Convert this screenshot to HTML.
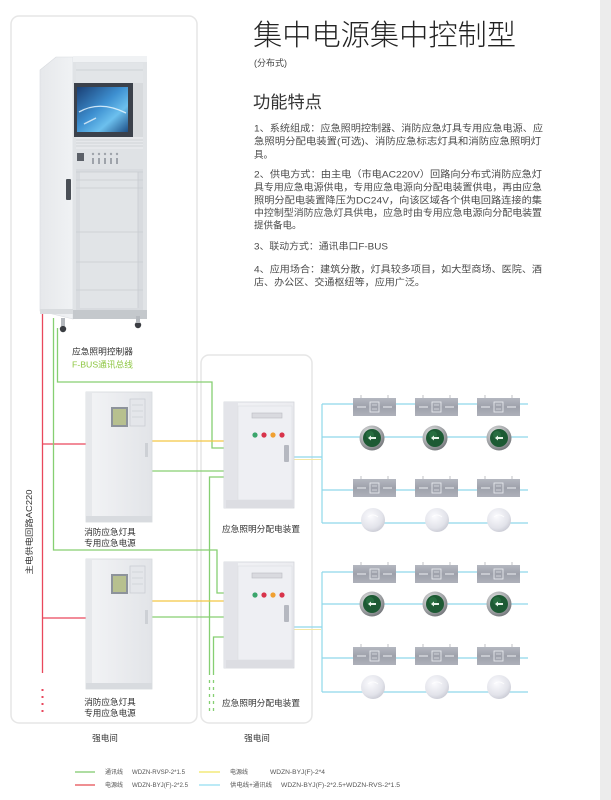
<!DOCTYPE html>
<html><head><meta charset="utf-8">
<style>
html,body{margin:0;padding:0;background:#fff;}
body{width:611px;height:800px;overflow:hidden;}
svg{display:block;}
text{font-family:"Liberation Sans","Noto Sans CJK SC",sans-serif;}
</style></head><body>
<svg width="611" height="800" viewBox="0 0 611 800" xmlns="http://www.w3.org/2000/svg">
<defs>
  <linearGradient id="gScreen" x1="0" y1="0" x2="1" y2="1">
    <stop offset="0" stop-color="#1a3f74"/><stop offset="0.45" stop-color="#3d8fd0"/><stop offset="0.7" stop-color="#6cc0ee"/><stop offset="1" stop-color="#1d4f86"/>
  </linearGradient>
  <linearGradient id="gSide" x1="0" y1="0" x2="1" y2="0">
    <stop offset="0" stop-color="#e6e8eb"/><stop offset="1" stop-color="#f0f2f4"/>
  </linearGradient>
  <linearGradient id="gBox" x1="0" y1="0" x2="1" y2="0">
    <stop offset="0" stop-color="#f3f4f6"/><stop offset="1" stop-color="#e2e4e8"/>
  </linearGradient>
  <linearGradient id="gDist" x1="0" y1="0" x2="1" y2="1">
    <stop offset="0" stop-color="#f2f3f6"/><stop offset="1" stop-color="#e4e5ea"/>
  </linearGradient>
  <linearGradient id="gExit" x1="0" y1="0" x2="0" y2="1">
    <stop offset="0" stop-color="#b4b7c0"/><stop offset="0.5" stop-color="#9ea1ab"/><stop offset="1" stop-color="#aeb1ba"/>
  </linearGradient>
  <radialGradient id="gRing" cx="0.4" cy="0.35" r="0.7">
    <stop offset="0" stop-color="#f0f0f0"/><stop offset="0.6" stop-color="#a8aaad"/><stop offset="1" stop-color="#6e7175"/>
  </radialGradient>
  <radialGradient id="gWhite" cx="0.4" cy="0.35" r="0.7">
    <stop offset="0" stop-color="#fbfbfe"/><stop offset="0.7" stop-color="#e2e3ea"/><stop offset="1" stop-color="#c8c9d3"/>
  </radialGradient>
  <g id="exit">
    <line x1="8" y1="-3" x2="8" y2="0" stroke="#b0b2b8" stroke-width="0.8"/>
    <line x1="35" y1="-3" x2="35" y2="0" stroke="#b0b2b8" stroke-width="0.8"/>
    <rect x="0" y="0" width="43" height="18" fill="url(#gExit)"/>
    <line x1="4" y1="9" x2="13" y2="9" stroke="#eef0f4" stroke-width="1"/>
    <rect x="17" y="4" width="9" height="10" fill="none" stroke="#eef0f4" stroke-width="0.8"/>
    <line x1="19" y1="7" x2="24" y2="7" stroke="#eef0f4" stroke-width="0.6"/>
    <line x1="19" y1="11" x2="24" y2="11" stroke="#eef0f4" stroke-width="0.6"/>
    <line x1="30" y1="9" x2="39" y2="9" stroke="#eef0f4" stroke-width="1"/>
  </g>
  <g id="glamp">
    <circle cx="0" cy="0" r="12.5" fill="url(#gRing)"/>
    <circle cx="0" cy="0" r="9" fill="#1d5a34"/>
    <circle cx="-2" cy="-3" r="4" fill="#2e7a4a" opacity="0.6"/>
    <path d="M-4 0 L-1 -2.5 L-1 -1 L4 -1 L4 1 L-1 1 L-1 2.5 Z" fill="#e8f4ea"/>
  </g>
  <g id="wlamp">
    <circle cx="0" cy="0" r="12" fill="url(#gWhite)"/>
    <path d="M-5 -3 Q0 -7 5 -3" stroke="#ffffff" stroke-width="1" fill="none" opacity="0.8"/>
  </g>
</defs>

<!-- right gray stripe -->
<rect x="600" y="0" width="11" height="800" fill="#ececec"/>

<!-- container boxes -->
<rect x="11" y="16" width="186" height="707" rx="8" fill="none" stroke="#e6e6e6" stroke-width="1.5"/>
<rect x="201" y="355" width="111" height="368" rx="8" fill="none" stroke="#e6e6e6" stroke-width="1.5"/>

<!-- wires: red -->
<g stroke="#e9475c" stroke-width="1.3" fill="none">
  <line x1="42.5" y1="312" x2="42.5" y2="673"/>
  <line x1="42" y1="444" x2="87" y2="444"/>
  <line x1="42" y1="618" x2="87" y2="618"/>
</g>
<g fill="#e9475c">
  <rect x="41.5" y="689" width="2" height="2"/>
  <rect x="41.5" y="696" width="2" height="2"/>
  <rect x="41.5" y="703" width="2" height="2"/>
  <rect x="41.5" y="710" width="2" height="2"/>
</g>

<!-- wires: green -->
<g stroke="#86cf72" stroke-width="1.3" fill="none">
  <polyline points="53.5,318 53.5,550 217,550 217,593 224,593"/>
  <polyline points="57.5,328 57.5,382 212,382 212,448 224,448"/>
  <line x1="152" y1="471" x2="224" y2="471"/>
  <polyline points="224,477 209.5,477 209.5,675"/>
  <polyline points="224,637 213.5,637 213.5,675"/>
  <line x1="152" y1="617" x2="224" y2="617"/>
  <line x1="209.5" y1="680" x2="209.5" y2="712" stroke-dasharray="3,4"/>
  <line x1="213.5" y1="680" x2="213.5" y2="712" stroke-dasharray="3,4"/>
</g>

<!-- wires: yellow -->
<g stroke="#f3c744" stroke-width="1.3" fill="none">
  <line x1="152" y1="441" x2="224" y2="441"/>
  <line x1="152" y1="601" x2="224" y2="601"/>
</g>

<!-- wires: cyan buses -->
<g stroke="#8fd8ea" stroke-width="1.2" fill="none">
  <line x1="293" y1="457" x2="322" y2="457"/>
  <line x1="322" y1="404" x2="322" y2="523"/>
  <line x1="322" y1="404" x2="528" y2="404"/>
  <line x1="322" y1="437" x2="528" y2="437"/>
  <line x1="322" y1="490" x2="528" y2="490"/>
  <line x1="322" y1="523" x2="528" y2="523"/>
  <line x1="293" y1="627" x2="322" y2="627"/>
  <line x1="322" y1="572" x2="322" y2="692"/>
  <line x1="322" y1="572" x2="528" y2="572"/>
  <line x1="322" y1="604" x2="528" y2="604"/>
  <line x1="322" y1="658" x2="528" y2="658"/>
  <line x1="322" y1="692" x2="528" y2="692"/>
</g>
<g stroke="#f4e8a6" stroke-width="1" fill="none">
  <line x1="293" y1="459.5" x2="321" y2="459.5"/>
  <line x1="293" y1="629.5" x2="321" y2="629.5"/>
</g>

<!-- main controller cabinet -->
<polygon points="40,70 56,57 73,57 73,319 40,311" fill="url(#gSide)" stroke="#d8dbdf" stroke-width="0.6"/>
<rect x="73" y="56" width="74" height="263" fill="#e0e3e6"/>
<rect x="73" y="56" width="74" height="6" fill="#f0f2f4"/>
<rect x="76" y="63" width="67" height="248" fill="#d7dadd"/>
<rect x="76" y="63" width="67" height="20" fill="#e2e5e8"/>
<line x1="76" y1="70" x2="143" y2="70" stroke="#c8ccd1" stroke-width="0.8"/>
<rect x="74" y="83" width="59" height="54" fill="#3b414b"/>
<rect x="77" y="87" width="51" height="45" fill="url(#gScreen)"/>
<path d="M79 112 Q100 100 126 113" stroke="#e6f6ff" stroke-width="1.3" fill="none" opacity="0.85"/>
<path d="M84 124 L96 118" stroke="#ffffff" stroke-width="1.5" opacity="0.7"/>
<rect x="76" y="137" width="67" height="12" fill="#e6e8eb"/>
<g stroke="#c8ccd1" stroke-width="0.7">
  <line x1="76" y1="140" x2="143" y2="140"/><line x1="76" y1="143" x2="143" y2="143"/><line x1="76" y1="146" x2="143" y2="146"/>
</g>
<rect x="76" y="149" width="67" height="20" fill="#dfe2e5"/>
<rect x="77" y="153" width="7" height="8" fill="#5b6068"/>
<g fill="#9ea3aa">
  <circle cx="93" cy="154" r="1.2"/><circle cx="99" cy="154" r="1.2"/><circle cx="105" cy="154" r="1.2"/><circle cx="111" cy="154" r="1.2"/><circle cx="117" cy="154" r="1.2"/>
  <rect x="92" y="158" width="2" height="6"/><rect x="98" y="158" width="2" height="6"/><rect x="104" y="158" width="2" height="6"/><rect x="110" y="158" width="2" height="6"/><rect x="116" y="158" width="2" height="6"/>
</g>
<rect x="76" y="169" width="67" height="142" fill="#d8dbdf"/>
<rect x="80" y="172" width="58" height="136" fill="#e1e4e7"/>
<g stroke="#c8ccd1" stroke-width="0.8">
  <line x1="76" y1="172" x2="143" y2="172"/><line x1="76" y1="180" x2="143" y2="180"/><line x1="76" y1="188" x2="143" y2="188"/>
  <line x1="76" y1="232" x2="143" y2="232"/><line x1="76" y1="262" x2="143" y2="262"/><line x1="76" y1="290" x2="143" y2="290"/>
  <line x1="138" y1="172" x2="138" y2="308"/>
</g>
<rect x="66" y="179" width="5" height="21" rx="1" fill="#4a4f56"/>
<rect x="73" y="310" width="74" height="9" fill="#c4c8cc"/>
<rect x="40" y="309" width="33" height="5" fill="#d9dcdf"/>
<circle cx="63" cy="329" r="3.2" fill="#3a3d42"/>
<circle cx="138" cy="325" r="3.2" fill="#3a3d42"/>
<rect x="61" y="318" width="4" height="8" fill="#b5b9be"/>
<rect x="136" y="316" width="4" height="7" fill="#b5b9be"/>

<!-- power boxes -->
<g>
  <rect x="86" y="392" width="66" height="130" fill="url(#gBox)" stroke="#d6d9dd" stroke-width="0.8"/>
  <rect x="86" y="392" width="6" height="130" fill="#e6e8eb"/>
  <rect x="111" y="407" width="17" height="20" fill="#8d939b"/>
  <rect x="113" y="409" width="13" height="16" fill="#b7c08f"/>
  <rect x="130" y="399" width="15" height="27" fill="#e4e6ea" stroke="#c6cad0" stroke-width="0.7"/>
  <line x1="132" y1="405" x2="143" y2="405" stroke="#c6cad0" stroke-width="0.6"/>
  <line x1="132" y1="411" x2="143" y2="411" stroke="#c6cad0" stroke-width="0.6"/>
  <line x1="132" y1="417" x2="143" y2="417" stroke="#c6cad0" stroke-width="0.6"/>
  <rect x="145" y="443" width="3" height="14" fill="#cdd0d5"/>
  <rect x="86" y="516" width="66" height="6" fill="#d8dbdf"/>
</g>
<g transform="translate(0,167)">
  <rect x="86" y="392" width="66" height="130" fill="url(#gBox)" stroke="#d6d9dd" stroke-width="0.8"/>
  <rect x="86" y="392" width="6" height="130" fill="#e6e8eb"/>
  <rect x="111" y="407" width="17" height="20" fill="#8d939b"/>
  <rect x="113" y="409" width="13" height="16" fill="#b7c08f"/>
  <rect x="130" y="399" width="15" height="27" fill="#e4e6ea" stroke="#c6cad0" stroke-width="0.7"/>
  <line x1="132" y1="405" x2="143" y2="405" stroke="#c6cad0" stroke-width="0.6"/>
  <line x1="132" y1="411" x2="143" y2="411" stroke="#c6cad0" stroke-width="0.6"/>
  <line x1="132" y1="417" x2="143" y2="417" stroke="#c6cad0" stroke-width="0.6"/>
  <rect x="145" y="443" width="3" height="14" fill="#cdd0d5"/>
  <rect x="86" y="516" width="66" height="6" fill="#d8dbdf"/>
</g>

<!-- distribution boxes -->
<g>
  <rect x="224" y="402" width="70" height="106" fill="url(#gDist)" stroke="#d2d4da" stroke-width="0.8"/>
  <rect x="224" y="402" width="14" height="106" fill="#e3e4e9"/>
  <rect x="238" y="406" width="54" height="94" fill="#eeeff3" stroke="#dcdde2" stroke-width="0.6"/>
  <rect x="252" y="413" width="30" height="5" fill="#d9dadf" stroke="#b9bbc2" stroke-width="0.6"/>
  <circle cx="255" cy="435" r="2.6" fill="#3aa56b"/>
  <circle cx="264" cy="435" r="2.6" fill="#d8334a"/>
  <circle cx="273" cy="435" r="2.6" fill="#f0a030"/>
  <circle cx="282" cy="435" r="2.6" fill="#d8334a"/>
  <rect x="284" y="445" width="5" height="17" rx="1" fill="#b5b8c0"/>
  <rect x="226" y="500" width="67" height="8" fill="#dcdde2"/>
</g>
<g transform="translate(0,160)">
  <rect x="224" y="402" width="70" height="106" fill="url(#gDist)" stroke="#d2d4da" stroke-width="0.8"/>
  <rect x="224" y="402" width="14" height="106" fill="#e3e4e9"/>
  <rect x="238" y="406" width="54" height="94" fill="#eeeff3" stroke="#dcdde2" stroke-width="0.6"/>
  <rect x="252" y="413" width="30" height="5" fill="#d9dadf" stroke="#b9bbc2" stroke-width="0.6"/>
  <circle cx="255" cy="435" r="2.6" fill="#3aa56b"/>
  <circle cx="264" cy="435" r="2.6" fill="#d8334a"/>
  <circle cx="273" cy="435" r="2.6" fill="#f0a030"/>
  <circle cx="282" cy="435" r="2.6" fill="#d8334a"/>
  <rect x="284" y="445" width="5" height="17" rx="1" fill="#b5b8c0"/>
  <rect x="226" y="500" width="67" height="8" fill="#dcdde2"/>
</g>

<!-- luminaires group 1 -->
<use href="#exit" x="353" y="398"/><use href="#exit" x="415" y="398"/><use href="#exit" x="477" y="398"/>
<use href="#glamp" x="372" y="438"/><use href="#glamp" x="435" y="438"/><use href="#glamp" x="499" y="438"/>
<use href="#exit" x="353" y="479"/><use href="#exit" x="415" y="479"/><use href="#exit" x="477" y="479"/>
<use href="#wlamp" x="373" y="520"/><use href="#wlamp" x="437" y="520"/><use href="#wlamp" x="499" y="520"/>
<!-- luminaires group 2 -->
<use href="#exit" x="353" y="565"/><use href="#exit" x="415" y="565"/><use href="#exit" x="477" y="565"/>
<use href="#glamp" x="372" y="604"/><use href="#glamp" x="435" y="604"/><use href="#glamp" x="499" y="604"/>
<use href="#exit" x="353" y="647"/><use href="#exit" x="415" y="647"/><use href="#exit" x="477" y="647"/>
<use href="#wlamp" x="373" y="687"/><use href="#wlamp" x="437" y="687"/><use href="#wlamp" x="499" y="687"/>

<!-- title & text -->
<text x="253" y="45" font-size="29" font-weight="300" fill="#222" textLength="263" lengthAdjust="spacingAndGlyphs">集中电源集中控制型</text>
<text x="254" y="66" font-size="9" fill="#444">(分布式)</text>
<text x="253" y="108" font-size="17" fill="#333" textLength="69" lengthAdjust="spacingAndGlyphs">功能特点</text>

<g font-size="9.5" fill="#4a4a4a">
  <text x="254" y="131.5" textLength="289" lengthAdjust="spacingAndGlyphs">1、系统组成：应急照明控制器、消防应急灯具专用应急电源、应</text>
  <text x="254" y="144.5" textLength="287" lengthAdjust="spacingAndGlyphs">急照明分配电装置(可选)、消防应急标志灯具和消防应急照明灯</text>
  <text x="254" y="158">具。</text>
  <text x="254" y="177.5" textLength="288" lengthAdjust="spacingAndGlyphs">2、供电方式：由主电（市电AC220V）回路向分布式消防应急灯</text>
  <text x="254" y="190.5" textLength="288" lengthAdjust="spacingAndGlyphs">具专用应急电源供电，专用应急电源向分配电装置供电，再由应急</text>
  <text x="254" y="203.5" textLength="288" lengthAdjust="spacingAndGlyphs">照明分配电装置降压为DC24V，向该区域各个供电回路连接的集</text>
  <text x="254" y="216" textLength="288" lengthAdjust="spacingAndGlyphs">中控制型消防应急灯具供电，应急时由专用应急电源向分配电装置</text>
  <text x="254" y="228.5">提供备电。</text>
  <text x="254" y="249.5" textLength="134" lengthAdjust="spacingAndGlyphs">3、联动方式：通讯串口F-BUS</text>
  <text x="254" y="272.5" textLength="288" lengthAdjust="spacingAndGlyphs">4、应用场合：建筑分散，灯具较多项目，如大型商场、医院、酒</text>
  <text x="254" y="285.5" textLength="171" lengthAdjust="spacingAndGlyphs">店、办公区、交通枢纽等，应用广泛。</text>
</g>

<!-- diagram labels -->
<g font-size="8.6" fill="#333">
  <text x="72" y="354.5" textLength="61" lengthAdjust="spacingAndGlyphs">应急照明控制器</text>
  <text x="72" y="367.5" fill="#8cc63f" textLength="61" lengthAdjust="spacingAndGlyphs">F-BUS通讯总线</text>
  <text x="110" y="535" text-anchor="middle">消防应急灯具</text>
  <text x="110" y="546" text-anchor="middle">专用应急电源</text>
  <text x="110" y="705" text-anchor="middle">消防应急灯具</text>
  <text x="110" y="716" text-anchor="middle">专用应急电源</text>
  <text x="261" y="532" text-anchor="middle" textLength="78" lengthAdjust="spacingAndGlyphs">应急照明分配电装置</text>
  <text x="261" y="706" text-anchor="middle" textLength="78" lengthAdjust="spacingAndGlyphs">应急照明分配电装置</text>
  <text x="105" y="741" text-anchor="middle">强电间</text>
  <text x="257" y="741" text-anchor="middle">强电间</text>
</g>
<text transform="translate(32,532) rotate(-90)" text-anchor="middle" font-size="8" fill="#333" textLength="85" lengthAdjust="spacingAndGlyphs">主电供电回路AC220</text>

<!-- legend -->
<g stroke-width="1.6">
  <line x1="75" y1="772" x2="95" y2="772" stroke="#93d283"/>
  <line x1="75" y1="785" x2="95" y2="785" stroke="#ea6a6f"/>
  <line x1="199" y1="772" x2="220" y2="772" stroke="#f3ea7a"/>
  <line x1="199" y1="785" x2="220" y2="785" stroke="#a6e3f3"/>
</g>
<g font-size="6" fill="#555">
  <text x="105" y="774">通讯线</text>
  <text x="132" y="774" textLength="53" lengthAdjust="spacingAndGlyphs">WDZN-RVSP-2*1.5</text>
  <text x="105" y="787">电源线</text>
  <text x="132" y="787" textLength="56" lengthAdjust="spacingAndGlyphs">WDZN-BYJ(F)-2*2.5</text>
  <text x="230" y="774">电源线</text>
  <text x="270" y="774" textLength="55" lengthAdjust="spacingAndGlyphs">WDZN-BYJ(F)-2*4</text>
  <text x="230" y="787" textLength="42" lengthAdjust="spacingAndGlyphs">供电线+通讯线</text>
  <text x="281" y="787" textLength="119" lengthAdjust="spacingAndGlyphs">WDZN-BYJ(F)-2*2.5+WDZN-RVS-2*1.5</text>
</g>
</svg>
</body></html>
